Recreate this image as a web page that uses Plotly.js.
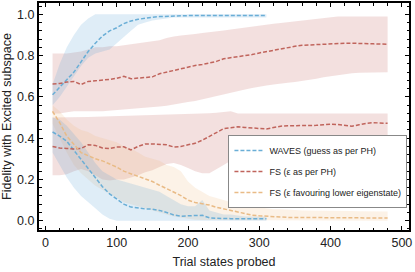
<!DOCTYPE html>
<html>
<head>
<meta charset="utf-8">
<script src="https://cdn.plot.ly/plotly-3.0.1.min.js"></script>
<style>html,body{margin:0;padding:0;background:#fff;}#chart{width:415px;height:272px;}</style>
</head>
<body>
<div id="chart"></div>
<script>
// ---- data ----
const wavesX = [10,20,30,40,50,60,70,80,90,100,110,120,130,140,150,160,170,180,190,200,210,220,230,240,250,260,270,280,290,300,310];
const wavesHigh = [0.61,0.645,0.68,0.72,0.77,0.82,0.86,0.895,0.92,0.935,0.955,0.968,0.976,0.982,0.986,0.989,0.991,0.992,0.993,0.994,0.994,0.994,0.994,0.994,0.994,0.994,0.994,0.994,0.994,0.994,0.994];
const wavesHighUp = [0.66,0.76,0.84,0.9,0.95,0.98,1.0,1.0,1.0,1.0,1.0,1.0,1.0,1.0,1.0,1.0,1.0,1.0,1.0,1.0,1.0,1.0,1.0,1.0,1.0,1.0,1.0,1.0,1.0,1.0,1.0];
const wavesHighLo = [0.56,0.6,0.65,0.7,0.75,0.79,0.81,0.82,0.83,0.86,0.89,0.92,0.95,0.96,0.97,0.975,0.98,0.985,0.985,0.985,0.985,0.985,0.985,0.985,0.985,0.985,0.985,0.985,0.985,0.985,0.985];
const wavesLow = [0.43,0.41,0.385,0.34,0.295,0.25,0.21,0.165,0.13,0.105,0.08,0.066,0.06,0.057,0.056,0.05,0.04,0.028,0.022,0.022,0.025,0.026,0.014,0.012,0.01,0.01,0.01,0.01,0.01,0.01,0.01];
const wavesLowUp = [0.5,0.49,0.46,0.42,0.38,0.33,0.28,0.24,0.22,0.2,0.19,0.18,0.17,0.16,0.15,0.14,0.12,0.1,0.08,0.07,0.07,0.1,0.05,0.04,0.03,0.03,0.025,0.02,0.02,0.02,0.02];
const wavesLowLo = [0.33,0.27,0.21,0.16,0.12,0.09,0.06,0.03,0.01,0,0,0,0,0,0,0,0,0,0,0,0,0,0,0,0,0,0,0,0,0,0];

const fsX = [10,20,30,40,50,60,70,80,90,100,110,120,130,140,150,160,170,180,190,200,210,220,230,240,250,260,270,280,290,300,310,320,330,340,350,360,370,380,390,400,410,420,430,440,450,460,470,480];
const fsHigh = [0.662,0.665,0.672,0.675,0.66,0.675,0.678,0.68,0.685,0.69,0.7,0.688,0.69,0.695,0.697,0.712,0.72,0.728,0.738,0.745,0.752,0.757,0.765,0.772,0.785,0.79,0.793,0.797,0.805,0.813,0.82,0.826,0.832,0.838,0.845,0.85,0.852,0.854,0.856,0.858,0.86,0.86,0.86,0.858,0.858,0.857,0.856,0.855];
const fsHighUp = [0.81,0.81,0.81,0.815,0.82,0.83,0.84,0.84,0.845,0.845,0.85,0.855,0.86,0.865,0.87,0.875,0.885,0.893,0.897,0.9,0.905,0.91,0.913,0.918,0.922,0.927,0.932,0.937,0.942,0.947,0.951,0.955,0.958,0.962,0.966,0.97,0.975,0.98,0.984,0.987,0.99,0.99,0.99,0.99,0.99,0.99,0.99,0.99];
const fsHighLo = [0.52,0.52,0.525,0.53,0.53,0.53,0.53,0.53,0.533,0.535,0.538,0.54,0.543,0.546,0.55,0.553,0.557,0.562,0.568,0.575,0.58,0.587,0.595,0.603,0.612,0.62,0.628,0.636,0.643,0.65,0.655,0.66,0.665,0.668,0.672,0.677,0.682,0.688,0.695,0.7,0.705,0.71,0.714,0.717,0.72,0.72,0.72,0.72];
const fsLow = [0.36,0.352,0.35,0.348,0.35,0.368,0.365,0.352,0.35,0.357,0.358,0.343,0.36,0.372,0.372,0.37,0.368,0.357,0.36,0.368,0.375,0.39,0.41,0.428,0.446,0.45,0.455,0.452,0.448,0.447,0.445,0.452,0.458,0.46,0.46,0.462,0.463,0.462,0.465,0.468,0.466,0.462,0.458,0.465,0.472,0.475,0.474,0.472];
const fsLowUp = [0.5,0.5,0.5,0.502,0.503,0.503,0.504,0.505,0.505,0.505,0.506,0.507,0.508,0.509,0.51,0.511,0.512,0.513,0.514,0.515,0.517,0.519,0.521,0.523,0.525,0.53,0.52,0.52,0.52,0.52,0.52,0.52,0.52,0.52,0.52,0.52,0.52,0.52,0.52,0.52,0.52,0.52,0.52,0.52,0.52,0.52,0.52,0.52];
const fsLowLo = [0.22,0.22,0.225,0.24,0.25,0.24,0.22,0.2,0.195,0.2,0.2,0.21,0.22,0.235,0.245,0.26,0.275,0.28,0.27,0.255,0.24,0.23,0.23,0.25,0.27,0.29,0.3,0.31,0.32,0.32,0.33,0.33,0.34,0.34,0.35,0.35,0.36,0.36,0.37,0.37,0.38,0.38,0.38,0.39,0.39,0.39,0.4,0.4];
const fsLower = [0.53,0.475,0.41,0.37,0.33,0.315,0.3,0.29,0.275,0.26,0.24,0.228,0.215,0.205,0.19,0.172,0.155,0.14,0.122,0.1,0.088,0.082,0.076,0.065,0.057,0.048,0.04,0.032,0.027,0.024,0.021,0.019,0.018,0.016,0.016,0.016,0.015,0.015,0.015,0.015,0.014,0.014,0.014,0.014,0.013,0.013,0.013,0.013];
const fsLowerUp = [0.56,0.53,0.49,0.46,0.44,0.43,0.41,0.4,0.39,0.38,0.36,0.35,0.33,0.31,0.3,0.29,0.27,0.26,0.24,0.19,0.16,0.14,0.12,0.11,0.1,0.09,0.08,0.075,0.07,0.065,0.06,0.055,0.055,0.055,0.052,0.05,0.05,0.05,0.05,0.048,0.048,0.047,0.047,0.046,0.046,0.045,0.045,0.045];
const fsLowerLo = [0.47,0.4,0.33,0.27,0.23,0.2,0.17,0.15,0.13,0.11,0.09,0.08,0.07,0.06,0.05,0.04,0.03,0.02,0.015,0.01,0.005,0.003,0,0,0,0,0,0,0,0,0,0,0,0,0,0,0,0,0,0,0,0,0,0,0,0,0,0];

const legendNames = ["WAVES (guess as per PH)", "FS (\u03b5 as per PH)", "FS (\u03b5 favouring lower eigenstate)"];
const xTickVals = [0,100,200,300,400,500];
const yTickVals = [0.0,0.2,0.4,0.6,0.8,1.0];

// ---- styles ----
const cBlue = "#6aaed6", cRed = "#c0645c", cOrange = "#e9bb86";
const fBlue = "rgba(95,165,215,0.2)", fRed = "rgba(190,90,85,0.19)", fOrange = "rgba(238,178,112,0.17)";

function band(xs, up, lo, fill) {
  return {x: xs.concat(xs.slice().reverse()), y: up.concat(lo.slice().reverse()),
    type: "scatter", mode: "lines", fill: "toself", fillcolor: fill,
    line: {width: 0, color: "rgba(0,0,0,0)"}, hoverinfo: "skip", showlegend: false};
}
function line(xs, ys, color, name, show, group) {
  return {x: xs, y: ys, type: "scatter", mode: "lines", name: name, showlegend: show, legendgroup: group,
    line: {color: color, width: 1.5, dash: "4px,2px"}};
}

const traces = [
  band(fsX, fsHighUp, fsHighLo, fRed),
  band(fsX, fsLowUp, fsLowLo, fRed),
  band(fsX, fsLowerUp, fsLowerLo, fOrange),
  band(wavesX, wavesHighUp, wavesHighLo, fBlue),
  band(wavesX, wavesLowUp, wavesLowLo, fBlue),
  line(wavesX, wavesHigh, cBlue, legendNames[0], true, "a"),
  line(wavesX, wavesLow, cBlue, legendNames[0], false, "a"),
  line(fsX, fsHigh, cRed, legendNames[1], true, "b"),
  line(fsX, fsLow, cRed, legendNames[1], false, "b"),
  line(fsX, fsLower, cOrange, legendNames[2], true, "c")
];

const axisFont = {family: "Liberation Sans, Arial, sans-serif", size: 12.5, color: "#222"};
const layout = {
  width: 415, height: 272,
  margin: {l: 39, r: 6, t: 3, b: 42},
  paper_bgcolor: "#fff", plot_bgcolor: "#fff",
  font: axisFont,
  xaxis: {range: [-9, 510], tickvals: xTickVals, ticks: "inside", ticklen: 4, tickwidth: 1, tickcolor: "#000",
    minor: {dtick: 20, tick0: 0, ticks: "inside", ticklen: 2.5, tickcolor: "#000"},
    showline: true, linecolor: "#000", linewidth: 2, mirror: "allticks", showgrid: false, zeroline: false,
    tickfont: axisFont, title: {text: "Trial states probed", font: axisFont, standoff: 8}},
  yaxis: {range: [-0.045, 1.055], tickvals: yTickVals, tickformat: ".1f", ticks: "inside", ticklen: 4, tickwidth: 1, tickcolor: "#000",
    minor: {dtick: 0.04, tick0: 0, ticks: "inside", ticklen: 2.5, tickcolor: "#000"},
    showline: true, linecolor: "#000", linewidth: 2, mirror: "allticks", showgrid: false, zeroline: false,
    tickfont: axisFont, title: {text: "Fidelity with Excited subspace", font: axisFont, standoff: 6}},
  legend: {x: 0.512, y: 0.418, xanchor: "left", yanchor: "top", bgcolor: "#fff", bordercolor: "#888", borderwidth: 1,
    font: {family: "Liberation Sans, Arial, sans-serif", size: 9, color: "#222"}, tracegroupgap: 2, itemwidth: 30},
  showlegend: true
};
Plotly.newPlot("chart", traces, layout, {displayModeBar: false, staticPlot: true});
</script>
</body>
</html>
